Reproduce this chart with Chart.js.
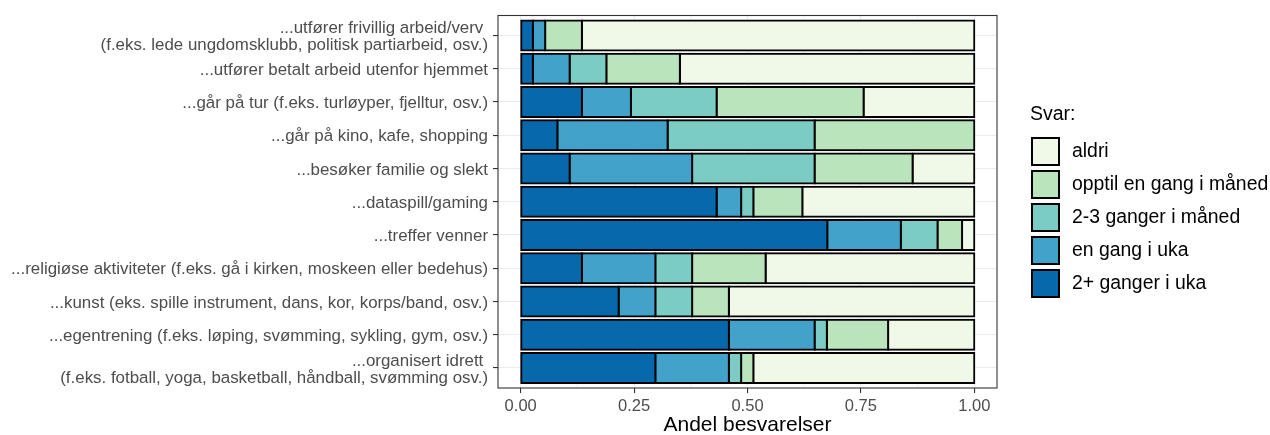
<!DOCTYPE html>
<html>
<head>
<meta charset="utf-8">
<script src="https://cdn.jsdelivr.net/npm/chart.js@4.4.1/dist/chart.umd.min.js"></script>
<style>
    html, body { margin: 0; padding: 0; background: #fff; }
    #wrap { width: 1270px; height: 435px; position: relative; }
</style>
</head>
<body>
<div id="wrap"><canvas id="chart"></canvas></div>
<script>
// Categories (top to bottom)
const categories = [
    ['...utfører frivillig arbeid/verv ', '(f.eks. lede ungdomsklubb, politisk partiarbeid, osv.)'],
    '...utfører betalt arbeid utenfor hjemmet',
    '...går på tur (f.eks. turløyper, fjelltur, osv.)',
    '...går på kino, kafe, shopping',
    '...besøker familie og slekt',
    '...dataspill/gaming',
    '...treffer venner',
    '...religiøse aktiviteter (f.eks. gå i kirken, moskeen eller bedehus)',
    '...kunst (eks. spille instrument, dans, kor, korps/band, osv.)',
    '...egentrening (f.eks. løping, svømming, sykling, gym, osv.)',
    ['...organisert idrett ', '(f.eks. fotball, yoga, basketball, håndball, svømming osv.)']
];

// Shares per answer (stacked left to right)
const toGangerUka   = [0.027, 0.027, 0.135, 0.081, 0.108, 0.432, 0.676, 0.135, 0.216, 0.459, 0.297];
const enGangUka     = [0.027, 0.081, 0.108, 0.243, 0.270, 0.054, 0.162, 0.162, 0.081, 0.189, 0.162];
const toTreManed    = [0.000, 0.081, 0.189, 0.324, 0.270, 0.027, 0.081, 0.081, 0.081, 0.027, 0.027];
const opptilManed   = [0.081, 0.162, 0.324, 0.352, 0.216, 0.108, 0.054, 0.162, 0.081, 0.135, 0.027];
const aldri         = [0.865, 0.649, 0.244, 0.000, 0.136, 0.379, 0.027, 0.460, 0.541, 0.190, 0.487];

const seriesLabels = ['2+ ganger i uka', 'en gang i uka', '2-3 ganger i måned', 'opptil en gang i måned', 'aldri'];
const seriesColors = ['#0868ac', '#43a2ca', '#7bccc4', '#bae4bc', '#f0f9e8'];
const seriesValues = [toGangerUka, enGangUka, toTreManed, opptilManed, aldri];

const xTicks = [0, 0.25, 0.5, 0.75, 1];

const FONT = '"Liberation Sans", Arial, sans-serif';
const GRID = '#ebebeb';
const AXIS = '#333333';
const TEXT = '#4d4d4d';

// minor grid, panel border and legend
const decorPlugin = {
    id: 'decor',
    beforeDatasetsDraw(chart) {
        const { ctx, chartArea: a, scales: { x } } = chart;
        ctx.save();
        ctx.strokeStyle = GRID;
        ctx.lineWidth = 0.6;
        for (let i = 0; i < xTicks.length - 1; i++) {
            const px = x.getPixelForValue((xTicks[i] + xTicks[i + 1]) / 2);
            ctx.beginPath();
            ctx.moveTo(px, a.top);
            ctx.lineTo(px, a.bottom);
            ctx.stroke();
        }
        ctx.restore();
    },
    afterDatasetsDraw(chart) {
        const { ctx, chartArea: a } = chart;
        ctx.save();
        ctx.strokeStyle = AXIS;
        ctx.lineWidth = 1.1;
        ctx.strokeRect(a.left, a.top, a.right - a.left, a.bottom - a.top);
        ctx.restore();
    },
    afterDraw(chart) {
        const ctx = chart.ctx;
        ctx.save();
        ctx.fillStyle = '#000';
        ctx.textBaseline = 'middle';
        ctx.font = '19.5px ' + FONT;
        ctx.fillText('Svar:', 1030, 115);
        ctx.font = '19.4px ' + FONT;
        const order = [4, 3, 2, 1, 0];
        order.forEach((s, i) => {
            const y = 137 + i * 33;
            ctx.fillStyle = seriesColors[s];
            ctx.fillRect(1031, y, 29, 29);
            ctx.strokeStyle = '#000';
            ctx.lineWidth = 2;
            ctx.strokeRect(1032, y + 1, 27, 27);
            ctx.fillStyle = '#000';
            ctx.fillText(seriesLabels[s], 1072, y + 15);
        });
        ctx.restore();
    }
};

new Chart(document.getElementById('chart'), {
    type: 'bar',
    data: {
        datasets: seriesValues.map((vals, i) => ({
            label: seriesLabels[i],
            data: vals.map((v, j) => ({ x: v, y: j })),
            backgroundColor: seriesColors[i],
            borderColor: '#000',
            borderWidth: 2,
            borderSkipped: false,
            inflateAmount: 1,
            categoryPercentage: 0.9,
            barPercentage: 1.0
        }))
    },
    options: {
        indexAxis: 'y',
        responsive: true,
        maintainAspectRatio: false,
        animation: false,
        layout: { padding: { top: 15.5, right: 273, bottom: 0, left: 0 } },
        plugins: {
            legend: { display: false },
            tooltip: { enabled: false }
        },
        scales: {
            x: {
                type: 'linear',
                stacked: true,
                min: -0.05,
                max: 1.05,
                afterBuildTicks: (scale) => { scale.ticks = xTicks.map(v => ({ value: v })); },
                afterFit: (scale) => { scale.height = 47; scale.paddingLeft = 0; scale.paddingRight = 0; },
                border: { display: false },
                grid: { color: GRID, lineWidth: 1.1, tickColor: AXIS, tickLength: 5, tickWidth: 1.1 },
                ticks: {
                    color: TEXT,
                    font: { family: FONT, size: 16.5 },
                    padding: 4,
                    callback: (v) => Number(v).toFixed(2)
                },
                title: {
                    display: true,
                    text: 'Andel besvarelser',
                    color: '#000',
                    font: { family: FONT, size: 21, lineHeight: 0.9 },
                    padding: { top: 0, bottom: 0 }
                }
            },
            y: {
                type: 'linear',
                stacked: true,
                reverse: true,
                min: -0.6,
                max: categories.length - 0.4,
                offset: false,
                afterBuildTicks: (scale) => { scale.ticks = categories.map((c, i) => ({ value: i })); },
                afterFit: (scale) => { scale.width = 498; scale.paddingTop = 0; scale.paddingBottom = 0; },
                border: { display: false },
                grid: { color: GRID, lineWidth: 1.1, offset: false, tickColor: AXIS, tickLength: 5, tickWidth: 1.1 },
                ticks: {
                    color: TEXT,
                    font: { family: FONT, size: 16.9, lineHeight: 1.0 },
                    padding: 5,
                    labelOffset: 1.5,
                    autoSkip: false,
                    callback: (v) => categories[v]
                }
            }
        }
    },
    plugins: [decorPlugin]
});
</script>
</body>
</html>
